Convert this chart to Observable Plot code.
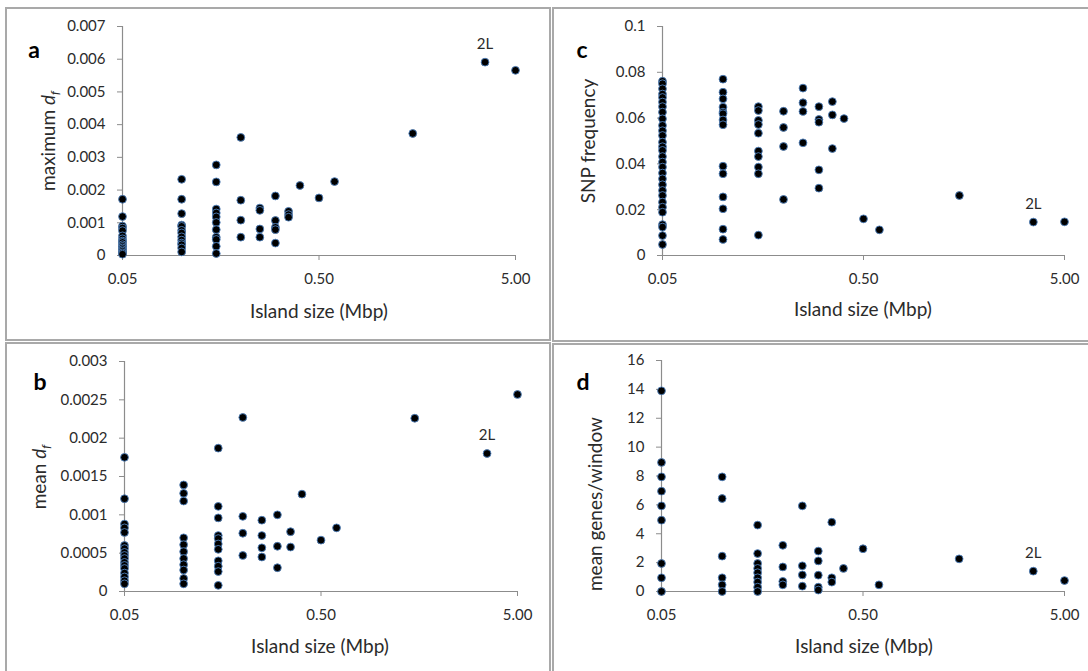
<!DOCTYPE html>
<html>
<head>
<meta charset="utf-8">
<script src="https://cdn.jsdelivr.net/npm/d3@7"></script>
<script src="https://cdn.jsdelivr.net/npm/@observablehq/plot@0.6"></script>
<style>
  html, body { margin: 0; padding: 0; background: #fff; }
  body { width: 1088px; height: 671px; position: relative; overflow: hidden; font-family: Lato, "Open Sans", sans-serif; color: #2b2b2b; }
  .box { position: absolute; border: 2px solid #a9a9a9; box-sizing: border-box; }
  .plot { position: absolute; }
  .txt { position: absolute; transform: translate(-50%, -50%); white-space: nowrap; }
  .ylab { position: absolute; transform: translate(-50%, -50%) rotate(-90deg); white-space: nowrap; font-size: 19px; }
  .xlab { font-size: 19px; }
  .letter { font-size: 23px; font-weight: bold; color: #000; }
  sub { font-size: 65%; vertical-align: -0.25em; font-style: italic; }
</style>
</head>
<body>
<script>
// Island sizes (Mbp) shared by every panel
const islandSizes = [0.05, 0.1, 0.15, 0.2, 0.25, 0.3, 0.35, 0.4, 0.5, 0.6, 1.5, 3.5, 5];
const xTicks = [0.05, 0.5, 5];
const labelSize = 3.5; // chromosome arm 2L

// a: maximum d_f, one list per island size
const maxDf = [
  [0.00172, 0.00119, 0.0009, 0.00084, 0.00076, 0.0006, 0.00051, 0.00044, 0.0004, 0.00033, 0.00028, 0.00023, 0.00018, 0.00013, 0.00008, 0.00004],
  [0.00233, 0.00172, 0.00128, 0.00093, 0.00089, 0.00077, 0.00069, 0.00057, 0.00047, 0.00038, 0.00033, 0.00023, 0.00011],
  [0.00277, 0.00225, 0.00142, 0.0013, 0.00118, 0.00101, 0.00079, 0.00056, 0.00049, 0.00028, 0.00006],
  [0.00361, 0.00169, 0.00108, 0.00056],
  [0.00145, 0.00138, 0.00081, 0.00056],
  [0.00182, 0.00107, 0.00086, 0.00079, 0.00038],
  [0.00135, 0.00125, 0.00117],
  [0.00214],
  [0.00176],
  [0.00226],
  [0.00373],
  [0.00591],
  [0.00566]
];
const maxDfTicks = [0, 0.001, 0.002, 0.003, 0.004, 0.005, 0.006, 0.007];

// b: mean d_f
const meanDf = [
  [0.00175, 0.00121, 0.00088, 0.00083, 0.00077, 0.0006, 0.00056, 0.00051, 0.00047, 0.00043, 0.00038, 0.00034, 0.0003, 0.00024, 0.00019, 0.00014, 0.0001],
  [0.00139, 0.00128, 0.00118, 0.0007, 0.00061, 0.00052, 0.00043, 0.00035, 0.00028, 0.00017, 0.0001],
  [0.00187, 0.00111, 0.00096, 0.00073, 0.00069, 0.00062, 0.00055, 0.0004, 0.00033, 0.00026, 0.00008],
  [0.00227, 0.00098, 0.00076, 0.00047],
  [0.00093, 0.00073, 0.00057, 0.00045],
  [0.001, 0.00059, 0.00031],
  [0.00078, 0.00058],
  [0.00127],
  [0.00067],
  [0.00083],
  [0.00226],
  [0.0018],
  [0.00257]
];
const meanDfTicks = [0, 0.0005, 0.001, 0.0015, 0.002, 0.0025, 0.003];

// c: SNP frequency
const snpFreq = [
  [0.0761, 0.075, 0.0728, 0.0705, 0.069, 0.067, 0.065, 0.0626, 0.0597, 0.0568, 0.0545, 0.0524, 0.0495, 0.0475, 0.0459, 0.0432, 0.0408, 0.0386, 0.036, 0.0335, 0.0309, 0.0284, 0.0262, 0.0233, 0.0211, 0.0189, 0.0135, 0.0124, 0.0087, 0.0048],
  [0.077, 0.0713, 0.0684, 0.0648, 0.0626, 0.0619, 0.0592, 0.0571, 0.039, 0.0357, 0.0256, 0.0204, 0.0115, 0.007],
  [0.065, 0.0633, 0.059, 0.0572, 0.0534, 0.0456, 0.0432, 0.0386, 0.0357, 0.0089],
  [0.063, 0.0559, 0.0476, 0.0245],
  [0.0731, 0.0667, 0.0629, 0.0492],
  [0.065, 0.0594, 0.0582, 0.0374, 0.0294],
  [0.0672, 0.0614, 0.0467],
  [0.0598],
  [0.016],
  [0.0112],
  [0.0262],
  [0.0146],
  [0.0147]
];
const snpTicks = [0, 0.02, 0.04, 0.06, 0.08, 0.1];

// d: mean genes per window
const genesPerWindow = [
  [13.9, 8.94, 7.94, 6.95, 5.93, 4.94, 1.94, 0.95, 0],
  [7.94, 6.44, 2.45, 0.95, 0.46, 0],
  [4.6, 2.63, 1.94, 1.6, 1.3, 0.95, 0.65, 0.3, 0],
  [3.2, 1.7, 0.7, 0.46],
  [5.93, 1.78, 1.15, 0.37],
  [2.8, 2.12, 1.13, 0.3, 0.1],
  [4.8, 0.95, 0.65],
  [1.6],
  [2.96],
  [0.46],
  [2.26],
  [1.41],
  [0.76]
];
const genesTicks = [0, 2, 4, 6, 8, 10, 12, 14, 16];

const axisColor = "#8c8c8c";
const textColor = "#2b2b2b";

function toRows(groups) {
  return islandSizes.flatMap((s, i) => groups[i].map(v => ({size: s, value: v})));
}

function panel(groups, yTicks, geom) {
  const rows = toRows(groups);
  const yMax = yTicks[yTicks.length - 1];
  const labelRow = rows.filter(d => d.size === labelSize);
  const chart = Plot.plot({
    width: geom.width,
    height: geom.height,
    marginLeft: geom.ml,
    marginRight: geom.mr,
    marginTop: geom.mt,
    marginBottom: geom.mb,
    style: {fontFamily: "Lato, 'Open Sans', sans-serif", fontSize: "15px", color: textColor, background: "transparent", overflow: "visible"},
    x: {type: "log", domain: [0.05, 5]},
    y: {domain: [0, yMax]},
    marks: [
      Plot.axisX({ticks: xTicks, tickFormat: d3.format(".2f"), tickSize: 5, tickPadding: 13, label: null, stroke: axisColor, fill: textColor}),
      Plot.axisY({ticks: yTicks, tickFormat: d => String(d), tickSize: 5, tickPadding: 12, label: null, stroke: axisColor, fill: textColor}),
      Plot.ruleX([0.05], {y1: () => 0, y2: () => yMax, stroke: axisColor, strokeWidth: 1.2}),
      Plot.ruleY([0], {x1: () => 0.05, x2: () => 5, stroke: axisColor, strokeWidth: 1.2}),
      Plot.dot(rows, {x: "size", y: "value", r: 3.9, fill: "#000", stroke: "#4f81bd", strokeWidth: 0.9}),
      Plot.text(labelRow, {x: "size", y: "value", text: () => "2L", dy: -18, fontSize: 15, fill: textColor})
    ]
  });
  chart.classList.add("plot");
  chart.style.left = geom.left + "px";
  chart.style.top = geom.top + "px";
  document.body.appendChild(chart);
}

function box(left, top, width, height) {
  const d = document.createElement("div");
  d.className = "box";
  Object.assign(d.style, {left: left + "px", top: top + "px", width: width + "px", height: height + "px"});
  document.body.appendChild(d);
}
function text(cls, html, x, y) {
  const d = document.createElement("div");
  d.className = cls;
  d.innerHTML = html;
  d.style.left = x + "px";
  d.style.top = y + "px";
  document.body.appendChild(d);
}

box(5, 7, 546, 334);
box(552, 7, 560, 335);
box(5, 342, 546, 360);
box(552, 343, 560, 360);

panel(maxDf, maxDfTicks, {left: 0, top: 0, width: 552, height: 340, ml: 122, mr: 37, mt: 26, mb: 85});
panel(snpFreq, snpTicks, {left: 552, top: 0, width: 536, height: 340, ml: 110, mr: 24, mt: 26, mb: 85});
panel(meanDf, meanDfTicks, {left: 0, top: 340, width: 552, height: 331, ml: 124, mr: 35, mt: 21, mb: 80});
panel(genesPerWindow, genesTicks, {left: 552, top: 340, width: 536, height: 331, ml: 109, mr: 24, mt: 20, mb: 80});

// panel letters
text("txt letter", "a", 34, 49);
text("txt letter", "c", 582, 49);
text("txt letter", "b", 40, 381);
text("txt letter", "d", 583, 381);

// axis titles
text("txt xlab", "Island size (Mbp)", 319, 310);
text("txt xlab", "Island size (Mbp)", 863, 308);
text("txt xlab", "Island size (Mbp)", 320, 645);
text("txt xlab", "Island size (Mbp)", 864, 645);

text("ylab", "maximum <i>d</i><sub>f</sub>", 49, 141);
text("ylab", "SNP frequency", 587, 141);
text("ylab", "mean <i>d</i><sub>f</sub>", 40, 477);
text("ylab", "mean genes/window", 594, 504);
</script>
</body>
</html>
